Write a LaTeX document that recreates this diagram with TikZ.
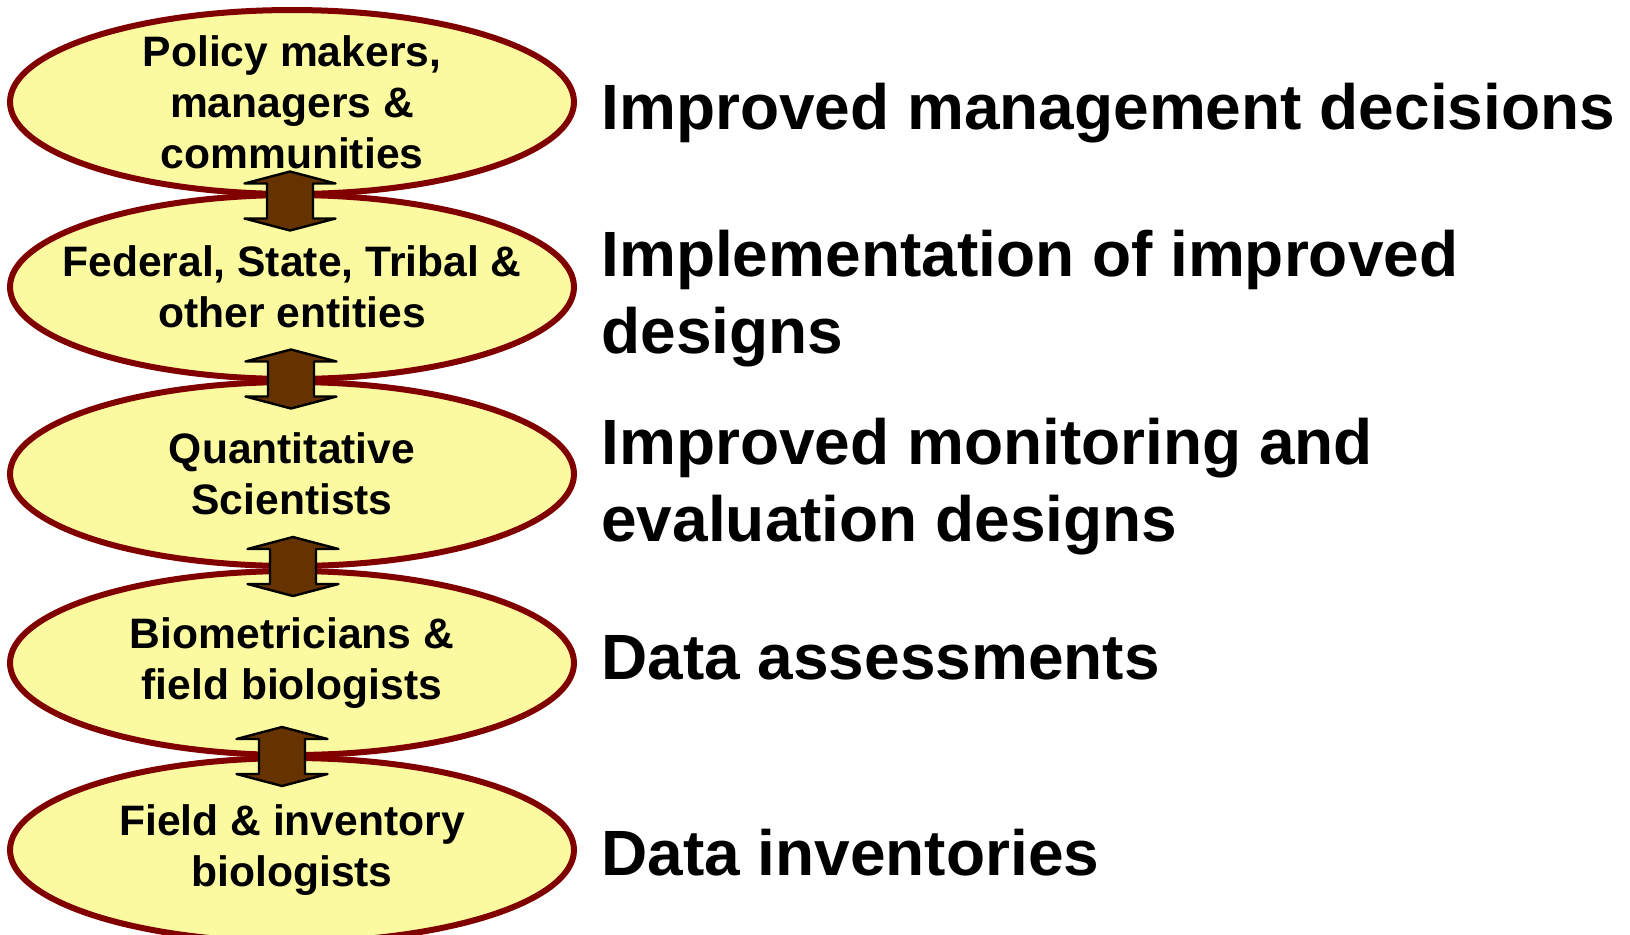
\documentclass[tikz,border=0pt]{standalone}
\usepackage{fontspec}
\setmainfont{Liberation Sans}
\usetikzlibrary{shapes.geometric,calc}

\definecolor{blobfill}{RGB}{252,250,160}
\definecolor{blobline}{RGB}{128,0,0}
\definecolor{arrowfill}{RGB}{102,51,0}

\tikzset{
  blob/.style={ellipse, draw=blobline, fill=blobfill, line width=3pt,
    minimum width=282pt, minimum height=92pt, inner sep=0pt},
  blobtext/.style={align=center, font=\fontsize{21.3}{25.5}\selectfont\bfseries},
  linkarrow/.pic={
    \draw[fill=arrowfill, line width=1.2pt, line join=round]
      (0,-29.5) -- (45.5,-17.5) -- (23,-17.5) -- (23,17.5) -- (45.5,17.5) -- (0,29.5)
      -- (-45.5,17.5) -- (-23,17.5) -- (-23,-17.5) -- (-45.5,-17.5) -- cycle;
  },
  result/.style={anchor=west, align=left, inner sep=0pt,
    font=\fontsize{32}{38.5}\selectfont\bfseries}
}

\begin{document}
\begin{tikzpicture}[x=0.5pt,y=-0.5pt]
    \useasboundingbox (0,0) rectangle (1630,934);

    % Ellipses
    \node[blob] (e1) at (292,102) {};
    \node[blob] (e2) at (292,287) {};
    \node[blob] (e3) at (292,474) {};
    \node[blob] (e4) at (292,663) {};
    \node[blob] (e5) at (292,850) {};

    % Ellipse texts
    \node[blobtext] (t1) at (e1) {Policy makers,\\managers \&\\communities};
    \node[blobtext] (t2) at (e2) {Federal, State, Tribal \&\\other entities};
    \node[blobtext] (t3) at (e3) {Quantitative\\Scientists};
    \node[blobtext] (t4) at (e4) {Biometricians \&\\field biologists};
    \node[blobtext] (t5) at (e5) {Field \& inventory\\biologists};

    % Double arrows between ellipses
    \pic (a1) at ($(e1.south)!0.5!(e2.north)+(-2,6.5)$) {linkarrow};
    \pic (a2) at ($(e2.south)!0.5!(e3.north)+(-1,-1.5)$) {linkarrow};
    \pic (a3) at ($(e3.south)!0.5!(e4.north)+(1,-2)$) {linkarrow};
    \pic (a4) at ($(e4.south)!0.5!(e5.north)+(-10,0)$) {linkarrow};

    % Results
    \node[result] (r1) at (601,113) {Improved management decisions};
    \node[result] (r2) at (601,299) {Implementation of improved\\designs};
    \node[result] (r3) at (601,487) {Improved monitoring and\\evaluation designs};
    \node[result] (r4) at (601,658) {Data assessments};
    \node[result] (r5) at (601,853) {Data inventories};
\end{tikzpicture}
\end{document}
